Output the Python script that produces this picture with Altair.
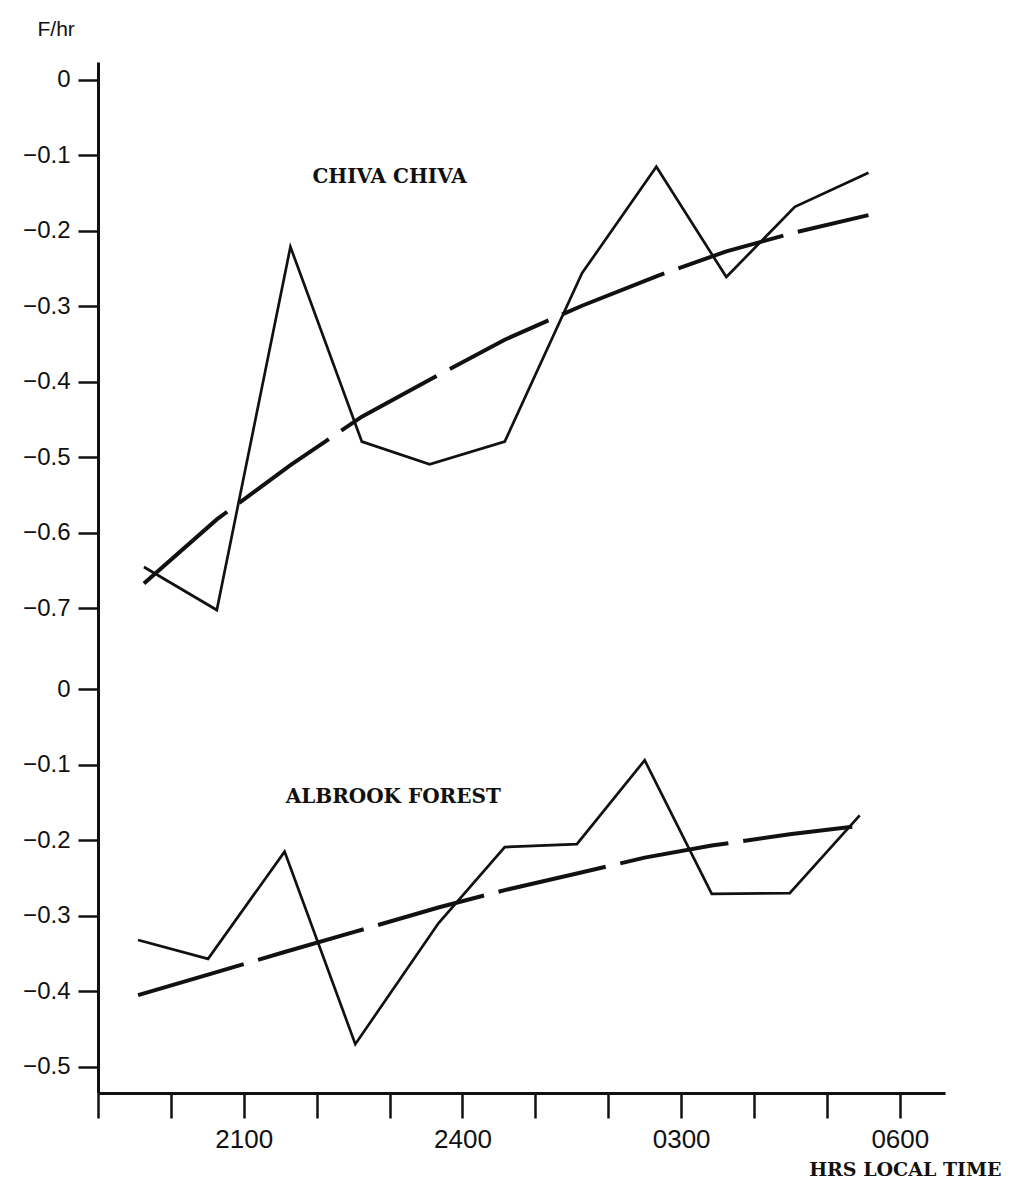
import altair as alt
import pandas as pd

# hours after 1900 local time
chiva_hours = [0.63, 1.63, 2.64, 3.62, 4.55, 5.58, 6.64, 7.66, 8.62, 9.56, 10.57]
chiva_obs = [-0.645, -0.702, -0.221, -0.479, -0.509, -0.479, -0.256, -0.115, -0.261, -0.168, -0.123]
chiva_fit = [-0.667, -0.582, -0.510, -0.446, -0.397, -0.344, -0.299, -0.260, -0.227, -0.202, -0.179]

albrook_hours = [0.55, 1.51, 2.56, 3.53, 4.67, 5.58, 6.57, 7.50, 8.42, 9.49, 10.45]
albrook_obs = [-0.332, -0.357, -0.215, -0.470, -0.310, -0.209, -0.205, -0.094, -0.271, -0.270, -0.167]
albrook_fit = [-0.405, -0.378, -0.348, -0.321, -0.289, -0.266, -0.244, -0.223, -0.207, -0.192, -0.181]

site_names = ["CHIVA CHIVA", "ALBROOK FOREST"]
label_hours = [4.0, 4.05]
label_values = [-0.128, -0.143]

x_tick_hours = list(range(0, 12))
x_label_hours = [2, 5, 8, 11]
x_label_text = ["2100", "2400", "0300", "0600"]

top_ticks = [0.0, -0.1, -0.2, -0.3, -0.4, -0.5, -0.6, -0.7]
bottom_ticks = [0.0, -0.1, -0.2, -0.3, -0.4, -0.5]
panel_offset = [0.0, -0.807]   # vertical offset of each panel on the shared axis

rows = []
for i, (hrs, obs, fit) in enumerate([(chiva_hours, chiva_obs, chiva_fit),
                                     (albrook_hours, albrook_obs, albrook_fit)]):
    for h, o, f in zip(hrs, obs, fit):
        rows.append({"site": site_names[i], "h": h, "obs": o + panel_offset[i],
                     "fit": f + panel_offset[i]})
df = pd.DataFrame(rows)

lab = pd.DataFrame({"site": site_names, "h": label_hours,
                    "pos": [v + o for v, o in zip(label_values, panel_offset)]})

y_ticks = [t + panel_offset[0] for t in top_ticks] + [round(t + panel_offset[1], 3) for t in bottom_ticks]

xlab_expr = " : ".join(f"datum.value == {h} ? '{t}'" for h, t in zip(x_label_hours, x_label_text)) + " : ''"
ylab_expr = ("datum.value > -0.75 ? (datum.value > -0.05 ? '0' : '\u2212' + format(-datum.value, '.1f')) : "
             "(datum.value > -0.85 ? '0' : '\u2212' + format(-(datum.value + 0.807), '.1f'))")

xscale = alt.Scale(domain=[0, 11.62], nice=False, zero=False)
yscale = alt.Scale(domain=[-1.3417, 0.0238], nice=False, zero=False)

xaxis = alt.Axis(values=x_tick_hours, labelExpr=xlab_expr, title="HRS LOCAL TIME",
                 grid=False, tickSize=25, tickWidth=2.5, tickColor="#111",
                 domainColor="#111", domainWidth=3, labelPadding=8,
                 labelFont="Liberation Sans", labelFontSize=26, labelColor="#111",
                 labelFlush=False, labelOverlap=False,
                 titleFont="DejaVu Serif", titleFontWeight="bold", titleFontSize=19,
                 titleColor="#111", titleAlign="right", titleAnchor="start",
                 titleX=903, titleY=82, titleBaseline="alphabetic")
yaxis = alt.Axis(values=y_ticks, labelExpr=ylab_expr, title="F/hr",
                 grid=False, tickSize=20, tickWidth=2.5, tickColor="#111",
                 domainColor="#111", domainWidth=3, labelPadding=8,
                 labelFont="Liberation Sans", labelFontSize=24, labelColor="#111",
                 labelFlush=False, labelOverlap=False,
                 titleFont="Liberation Sans", titleFontWeight="normal", titleFontSize=21,
                 titleColor="#111",
                 titleAngle=0, titleAlign="left", titleAnchor="start",
                 titleX=-61, titleY=-27, titleBaseline="alphabetic")

base = alt.Chart(df)
obs_line = base.mark_line(color="#111", strokeWidth=2.7, strokeJoin="miter").encode(
    x=alt.X("h:Q", scale=xscale, axis=xaxis),
    y=alt.Y("obs:Q", scale=yscale, axis=yaxis),
    detail="site:N",
)
fit_line = base.mark_line(color="#111", strokeWidth=4, strokeDash=[110, 15]).encode(
    x=alt.X("h:Q", scale=xscale),
    y=alt.Y("fit:Q", scale=yscale),
    detail="site:N",
)
labels = alt.Chart(lab).mark_text(font="DejaVu Serif", fontWeight="bold", fontSize=20,
                                  color="#111", align="center", baseline="middle").encode(
    x=alt.X("h:Q", scale=xscale),
    y=alt.Y("pos:Q", scale=yscale),
    text="site:N",
)

chart = alt.layer(obs_line, fit_line, labels).properties(
    width=847, height=1031,
    autosize=alt.AutoSizeParams(type="none"),
    padding={"left": 90, "top": 54, "right": 62, "bottom": 85},
    background="white",
).configure_view(stroke=None)

chart.save("out.html", embed_options={"renderer": "svg", "actions": False})
